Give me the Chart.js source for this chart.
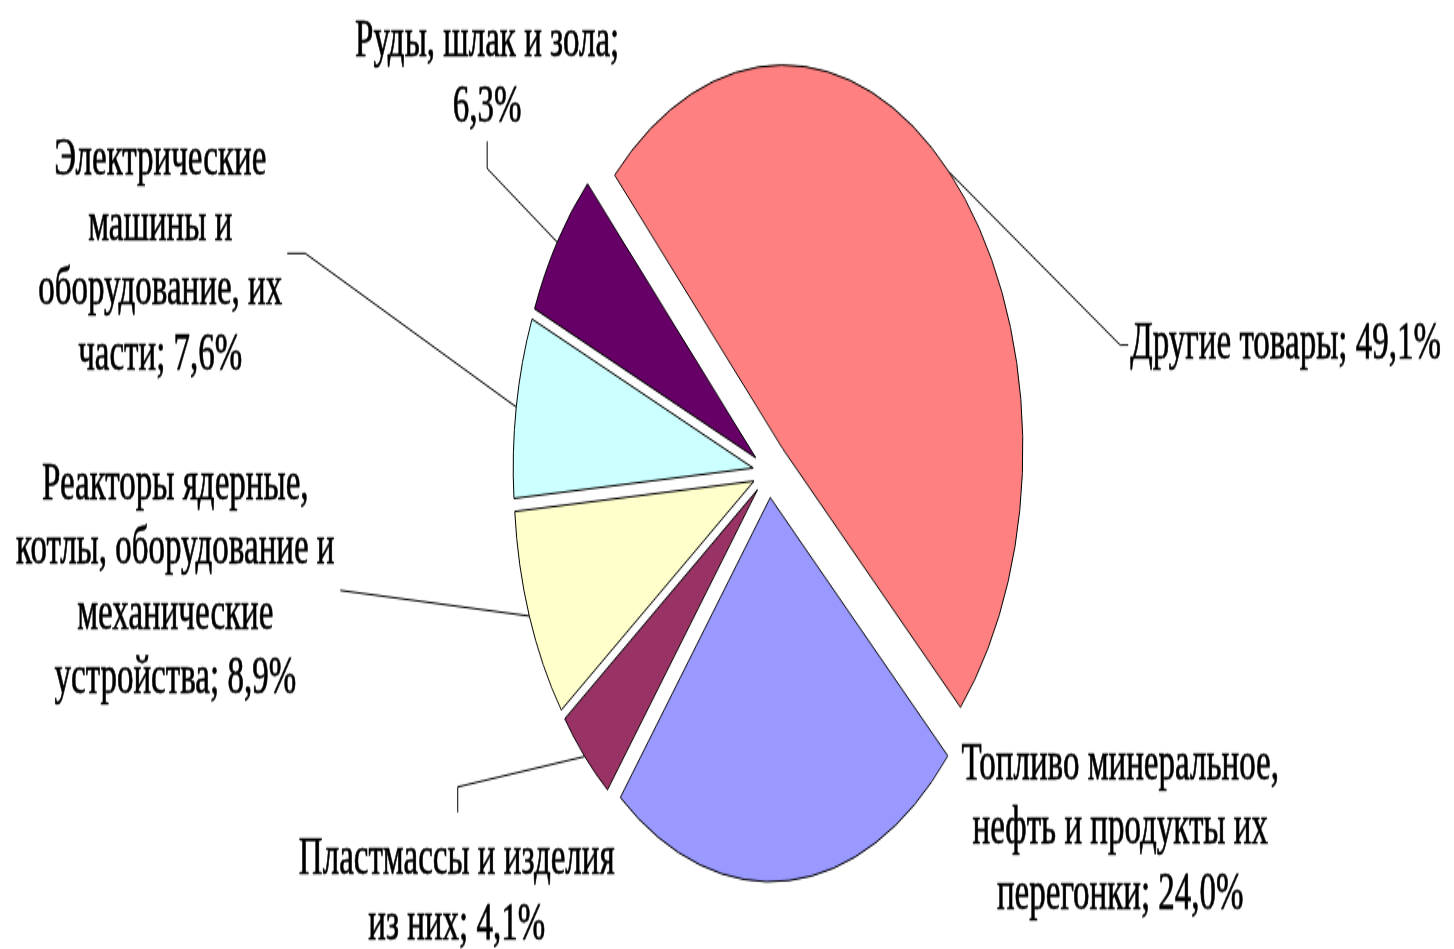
<!DOCTYPE html>
<html>
<head>
<meta charset="utf-8">
<script src="https://cdn.jsdelivr.net/npm/chart.js@4"></script>
<style>
  html, body { margin: 0; padding: 0; background: #fff; overflow: hidden; }
  /* the original picture is a round pie stretched vertically, text included */
  #wrap { position: absolute; left: 0; top: 0; width: 1454px; height: 593px;
          transform: scaleY(1.6003); transform-origin: 0 0; }
</style>
</head>
<body>
<div id="wrap"><canvas id="chart"></canvas></div>
<script>
const categories = [
  'Другие товары',
  'Топливо минеральное, нефть и продукты их перегонки',
  'Пластмассы и изделия из них',
  'Реакторы ядерные, котлы, оборудование и механические устройства',
  'Электрические машины и оборудование, их части',
  'Руды, шлак и зола'
];
const shares = [49.1, 24.0, 4.1, 8.9, 7.6, 6.3];

// how each label is broken into lines; {v} is the share
const labelLines = [
  ['Другие товары; {v}'],
  ['Топливо минеральное,', 'нефть и продукты их', 'перегонки; {v}'],
  ['Пластмассы и изделия', 'из них; {v}'],
  ['Реакторы ядерные,', 'котлы, оборудование и', 'механические', 'устройства; {v}'],
  ['Электрические', 'машины и', 'оборудование, их', 'части; {v}'],
  ['Руды, шлак и зола;', '{v}']
];

const colors = ['#FF8080', '#9999FF', '#993366', '#FFFFCC', '#CCFFFF', '#660066'];
const explode = [20, 16, 16, 16, 16, 16];

// label placement relative to the slice edge at its mid angle
const labelLayout = [
  { dx: 181, dy: 108, align: 'left', leader: [[171, 108], [179, 108]] },
  { dx: 331, dy: -72, align: 'center', leader: null },
  { dx: -128, dy: 65, align: 'center', leader: [[-127, 19], [-127, 35]] },
  { dx: -354, dy: -82, align: 'center', leader: [[-189, -16]] },
  { dx: -356, dy: -154, align: 'center', leader: [[-211, -96], [-229, -96]] },
  { dx: -70, dy: -125, align: 'center', leader: [[-70, -46], [-70, -63]] }
];
const lineH = 40.6;

function fmt(v) { return v.toFixed(1).replace('.', ',') + '%'; }

const explodePlugin = {
  id: 'explode',
  afterDatasetsUpdate(chart) {
    chart.getDatasetMeta(0).data.forEach((arc, i) => {
      const mid = (arc.startAngle + arc.endAngle) / 2;
      arc.x += Math.cos(mid) * explode[i];
      arc.y += Math.sin(mid) * explode[i];
    });
  }
};

const labelPlugin = {
  id: 'pieLabels',
  afterDatasetsDraw(chart) {
    const ctx = chart.ctx;
    const arcs = chart.getDatasetMeta(0).data;
    ctx.save();
    ctx.font = '33px "Liberation Serif", "Times New Roman", serif';
    ctx.fillStyle = '#000';
    ctx.strokeStyle = '#000';
    ctx.textBaseline = 'middle';
    arcs.forEach((arc, i) => {
      const mid = (arc.startAngle + arc.endAngle) / 2;
      const ax = arc.x + Math.cos(mid) * arc.outerRadius;
      const ay = arc.y + Math.sin(mid) * arc.outerRadius;
      const L = labelLayout[i];
      if (L.leader) {
        ctx.lineWidth = 1;
        ctx.beginPath();
        ctx.moveTo(ax, ay);
        L.leader.forEach(p => ctx.lineTo(ax + p[0], ay + p[1]));
        ctx.stroke();
      }
      ctx.textAlign = L.align;
      ctx.lineWidth = 0.5;
      labelLines[i].forEach((t, k) => {
        const s = t.replace('{v}', fmt(shares[i]));
        const ty = ay + L.dy + k * lineH;
        ctx.fillText(s, ax + L.dx, ty);
        ctx.strokeText(s, ax + L.dx, ty);
      });
    });
    ctx.restore();
  }
};

new Chart(document.getElementById('chart'), {
  type: 'pie',
  data: {
    labels: categories,
    datasets: [{
      data: shares,
      backgroundColor: colors,
      borderColor: '#000',
      borderWidth: 1,
      borderJoinStyle: 'miter',
      radius: 240
    }]
  },
  options: {
    responsive: true,
    maintainAspectRatio: false,
    animation: false,
    events: [],
    rotation: -44.5,
    layout: { padding: { left: 500, right: 416, top: 20, bottom: 23 } },
    plugins: { legend: { display: false }, tooltip: { enabled: false } }
  },
  plugins: [explodePlugin, labelPlugin]
});
</script>
</body>
</html>
